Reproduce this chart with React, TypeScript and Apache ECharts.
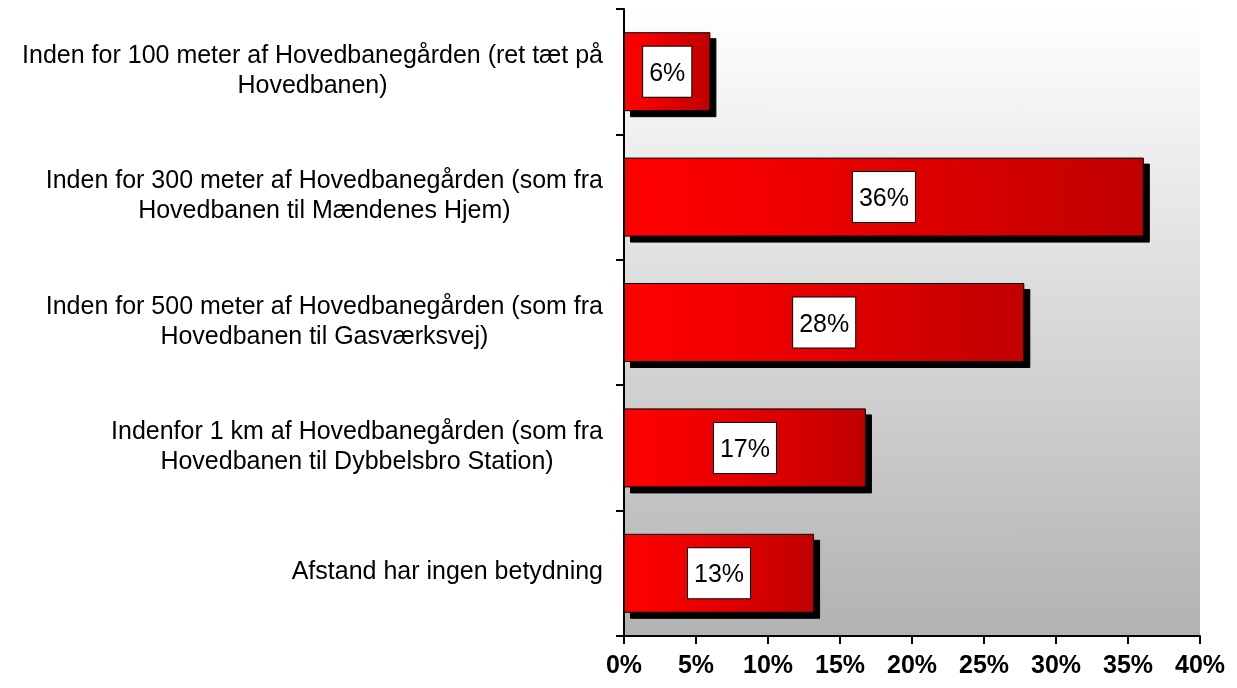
import React, { useEffect, useRef } from "react";
import * as echarts from "echarts";

const categories: string[] = [
  "Inden for 100 meter af Hovedbanegården (ret tæt på\nHovedbanen)",
  "Inden for 300 meter af Hovedbanegården (som fra\nHovedbanen til Mændenes Hjem)",
  "Inden for 500 meter af Hovedbanegården (som fra\nHovedbanen til Gasværksvej)",
  "Indenfor 1 km af Hovedbanegården (som fra\nHovedbanen til Dybbelsbro Station)",
  "Afstand har ingen betydning",
];
const values: number[] = [6.0, 36.1, 27.8, 16.8, 13.2];
const xMin = 0;
const xMax = 40;
const xInterval = 5;

const FONT = "'Liberation Sans', Arial, sans-serif";

export default function App() {
  const ref = useRef<HTMLDivElement>(null);
  useEffect(() => {
    if (!ref.current) return;
    const chart = echarts.init(ref.current, undefined, { renderer: "svg" });
    chart.setOption({
      animation: false,
      textStyle: { fontFamily: FONT },
      grid: {
        left: 624,
        right: 37,
        top: 9,
        bottom: 52,
        show: true,
        borderWidth: 0,
        backgroundColor: new echarts.graphic.LinearGradient(0, 0, 0, 1, [
          { offset: 0, color: "#ffffff" },
          { offset: 1, color: "#b2b2b2" },
        ]),
      },
      xAxis: {
        type: "value",
        min: xMin,
        max: xMax,
        interval: xInterval,
        splitLine: { show: false },
        axisLine: { show: true, lineStyle: { color: "#000", width: 2 } },
        axisTick: { show: true, length: 8, lineStyle: { color: "#000", width: 2 } },
        axisLabel: {
          formatter: "{value}%",
          color: "#000",
          fontWeight: "bold",
          fontSize: 25,
          fontFamily: FONT,
          margin: 15,
        },
      },
      yAxis: {
        type: "category",
        data: categories,
        inverse: true,
        axisLine: { show: true, lineStyle: { color: "#000", width: 2 } },
        axisTick: { show: true, length: 8, alignWithLabel: false, lineStyle: { color: "#000", width: 2 } },
        axisLabel: {
          margin: 21,
          color: "#000",
          fontSize: 25,
          fontFamily: FONT,
          lineHeight: 30,
          padding: [0, 0, 6, 0],
          formatter: (v: string) =>
            v
              .split("\n")
              .map((l) => `{c|${l}}`)
              .join("\n"),
          rich: {
            c: {
              align: "center",
              fontSize: 25,
              lineHeight: 30,
              color: "#000",
              fontFamily: FONT,
            },
          },
        },
      },
      series: [
        {
          type: "bar",
          data: values,
          barCategoryGap: "37%",
          itemStyle: {
            color: new echarts.graphic.LinearGradient(0, 0, 1, 0, [
              { offset: 0, color: "#ff0000" },
              { offset: 0.25, color: "#f40000" },
              { offset: 1, color: "#c00000" },
            ]),
            borderColor: "#000",
            borderWidth: 1,
            shadowColor: "#000",
            shadowBlur: 0,
            shadowOffsetX: 6,
            shadowOffsetY: 6,
          },
          label: {
            show: true,
            position: "inside",
            formatter: (p: any) => `${Math.round(p.value)}%`,
            color: "#000",
            fontSize: 25,
            fontFamily: FONT,
            lineHeight: 26,
            backgroundColor: "#fff",
            borderColor: "#000",
            borderWidth: 1,
            padding: [12, 6],
          },
        },
      ],
    });
    return () => chart.dispose();
  }, []);
  return (
    <div
      ref={ref}
      style={{ position: "fixed", left: 0, top: 0, width: 1237, height: 688 }}
    />
  );
}
